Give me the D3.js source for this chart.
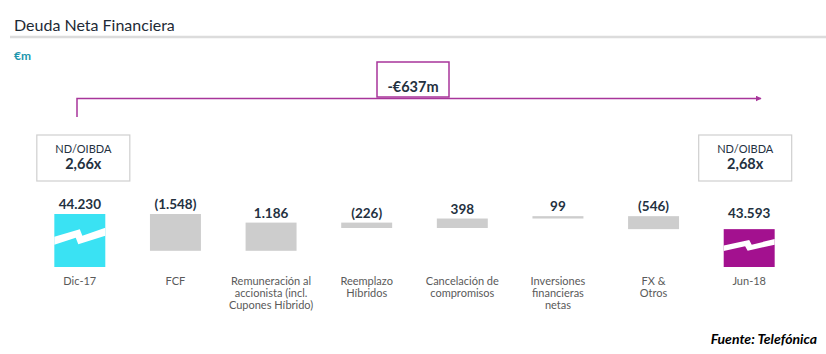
<!DOCTYPE html>
<html>
<head>
<meta charset="utf-8">
<script src="https://cdn.jsdelivr.net/npm/d3@7"></script>
<style>
    body { margin: 0; background: #fff; }
    svg { display: block; font-family: Lato, "Open Sans", sans-serif; }
</style>
</head>
<body>
<svg id="chart" width="826" height="354"></svg>
<script>
"use strict"

const categories = ["Dic-17", "FCF", "Remuneración", "Reemplazo", "Cancelación", "Inversiones", "FX", "Jun-18"]
const categoryLines = [
    ["Dic-17"],
    ["FCF"],
    ["Remuneración al", "accionista (incl.", "Cupones Híbrido)"],
    ["Reemplazo", "Híbridos"],
    ["Cancelación de", "compromisos"],
    ["Inversiones", "financieras", "netas"],
    ["FX &", "Otros"],
    ["Jun-18"]
]
// first and last are totals, the rest are changes
const values = [44230, -1548, 1186, -226, 398, 99, -546, 43593]
const ratioLabels = ["2,66x", "2,68x"]
const axisBreak = 42000

const svg = d3.select("#chart")
const locale = d3.formatLocale({decimal: ",", thousands: ".", grouping: [3], currency: ["€", ""]})
const fmt = locale.format(",.0f")
const fmtLabel = v => v < 0 ? "(" + fmt(-v) + ")" : fmt(v)

// build waterfall steps
let running = 0
const steps = values.map((v, i) => {
    if (i === 0 || i === values.length - 1) {
        running = v
        return {cat: categories[i], value: v, y0: axisBreak, y1: v, total: true, idx: i}
    }
    const start = running
    running += v
    return {cat: categories[i], value: v, y0: start, y1: running, total: false, idx: i}
})

const x = d3.scaleBand().domain(categories).range([32, 797]).paddingInner(0.467).paddingOuter(0.2335)
const y = d3.scaleLinear().domain([axisBreak, values[0]]).range([267, 214])

// title
svg.append("text").attr("x", 14).attr("y", 31).text("Deuda Neta Financiera")
    .style("font-size", "16px").style("fill", "#1e2a36")
svg.append("line").attr("x1", 10).attr("x2", 826).attr("y1", 37).attr("y2", 37)
    .style("stroke", "#dcdcdc").style("stroke-width", 2.5)
svg.append("text").attr("x", 14).attr("y", 60).text("€m")
    .style("font-size", "12px").style("font-weight", "bold").style("fill", "#1b96ad")

const purple = "#a8359a"
const colorFor = d => d.idx === 0 ? "#3ae2f3" : d.total ? "#a3118f" : "#cdcdcd"

// bars
const g = svg.append("g")
g.selectAll("rect.bar")
    .data(steps)
    .enter()
    .append("rect")
    .attr("class", "bar")
    .attr("x", d => x(d.cat))
    .attr("y", d => y(Math.max(d.y0, d.y1)))
    .attr("width", x.bandwidth())
    .attr("height", d => Math.abs(y(d.y0) - y(d.y1)))
    .style("fill", colorFor)

// axis break marks on the totals
const breakShape = [[0,0.43],[0.50,0.29],[0.55,0.41],[1,0.26],[1,0.41],[0.47,0.57],[0.42,0.45],[0,0.58]]
g.selectAll("path.break")
    .data(steps.filter(d => d.total))
    .enter()
    .append("path")
    .attr("class", "break")
    .attr("d", d => {
        const x0 = x(d.cat), w = x.bandwidth()
        const top = y(d.y1), h = y(d.y0) - top
        return d3.line()(breakShape.map(p => [x0 + p[0] * w, top + p[1] * h])) + "Z"
    })
    .style("fill", "#fff")

// value labels
g.selectAll("text.value")
    .data(steps)
    .enter()
    .append("text")
    .attr("class", "value")
    .attr("x", d => x(d.cat) + x.bandwidth() / 2)
    .attr("y", d => y(Math.max(d.y0, d.y1)) - (d.total && d.idx > 0 ? 11 : 5))
    .attr("text-anchor", "middle")
    .text(d => fmtLabel(d.value))
    .style("font-size", "13.5px")
    .style("font-weight", "bold")
    .style("fill", "#24313f")

// category labels
const cats = g.selectAll("text.cat")
    .data(categoryLines)
    .enter()
    .append("text")
    .attr("class", "cat")
    .attr("text-anchor", "middle")
    .style("font-size", "11px")
    .style("fill", "#5a5a5a")
cats.selectAll("tspan")
    .data((d, i) => d.map(line => ({line: line, cat: categories[i]})))
    .enter()
    .append("tspan")
    .attr("x", d => x(d.cat) + x.bandwidth() / 2)
    .attr("y", (d, j) => 285 + j * 12)
    .text(d => d.line)

// ND/OIBDA boxes
const boxes = [
    {cx: x(categories[0]) + x.bandwidth() / 2 + 3.5, label: ratioLabels[0]},
    {cx: x(categories[categories.length - 1]) + x.bandwidth() / 2 - 4, label: ratioLabels[1]}
]
boxes.forEach(b => {
    svg.append("rect").attr("x", b.cx - 46.5).attr("y", 135).attr("width", 93).attr("height", 46)
        .style("fill", "#fff").style("stroke", "#cfcfcf").style("stroke-width", 1.2)
    svg.append("text").attr("x", b.cx).attr("y", 152.5).attr("text-anchor", "middle").text("ND/OIBDA")
        .style("font-size", "11px").style("fill", "#24313f")
    svg.append("text").attr("x", b.cx).attr("y", 168.5).attr("text-anchor", "middle").text(b.label)
        .style("font-size", "14.5px").style("font-weight", "bold").style("fill", "#24313f")
})

// change arrow
svg.append("defs").append("marker")
    .attr("id", "head").attr("viewBox", "0 0 10 10").attr("refX", 9).attr("refY", 5)
    .attr("markerWidth", 6).attr("markerHeight", 6).attr("markerUnits", "userSpaceOnUse").attr("orient", "auto")
    .append("path").attr("d", "M0,0L10,5L0,10Z").style("fill", purple)
svg.append("path")
    .attr("d", "M77,117V98.5H761")
    .style("fill", "none").style("stroke", purple).style("stroke-width", 1.5)
    .attr("marker-end", "url(#head)")

const change = values[values.length - 1] - values[0]
svg.append("rect").attr("x", 377).attr("y", 62).attr("width", 72).attr("height", 35)
    .style("fill", "#fff").style("stroke", purple).style("stroke-width", 1.5)
svg.append("text").attr("x", 413).attr("y", 92).attr("text-anchor", "middle")
    .text("-" + locale.format("$,.0f")(Math.abs(change)) + "m")
    .style("font-size", "14.5px").style("font-weight", "bold").style("fill", "#24313f")

svg.append("text").attr("x", 817).attr("y", 344).attr("text-anchor", "end").text("Fuente: Telefónica")
    .style("font-size", "14px").style("font-weight", "bold").style("font-style", "italic").style("fill", "#000")
</script>
</body>
</html>
